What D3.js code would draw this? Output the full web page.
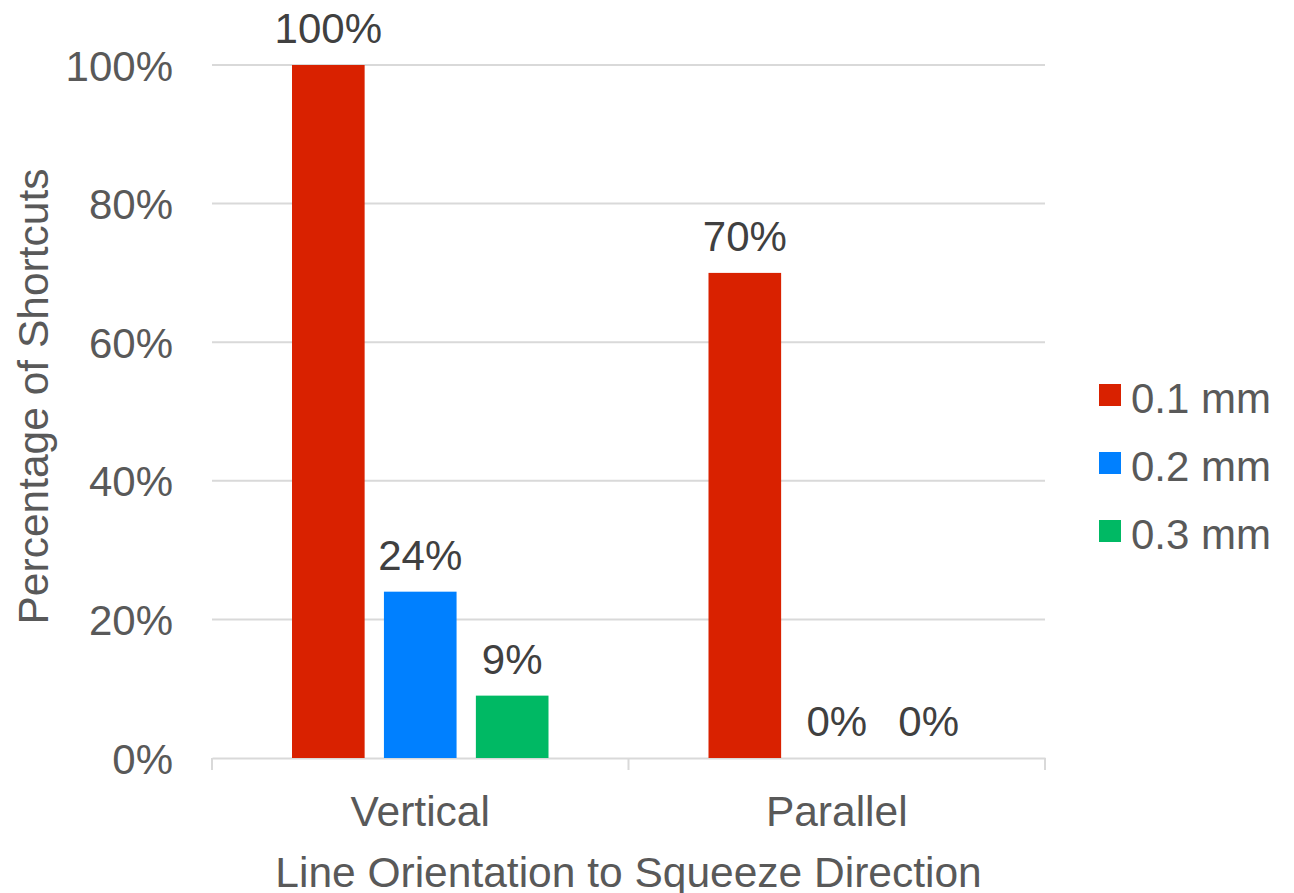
<!DOCTYPE html>
<html>
<head>
<meta charset="utf-8">
<script src="https://cdn.jsdelivr.net/npm/d3@7"></script>
<style>
  html, body { margin: 0; padding: 0; background: #fff; }
  svg { display: block; font-family: "Liberation Sans", Arial, sans-serif; }
</style>
</head>
<body>
<svg id="chart" width="1294" height="893"></svg>
<script>
// Shortcut rates by line orientation and line spacing
const categories = ["Vertical", "Parallel"];
const seriesNames = ["0.1 mm", "0.2 mm", "0.3 mm"];
const values01 = [100, 70];
const values02 = [24, 0];
const values03 = [9, 0];
const yTicks = [0, 20, 40, 60, 80, 100];
const colors = ["#d92100", "#0080ff", "#00b964"];

const seriesValues = [values01, values02, values03];

const svg = d3.select("#chart");
const plotLeft = 212, plotRight = 1045, plotTop = 65, plotBottom = 758;
const fontSize = "42px";
const titleSize = "42.5px";

const x0 = d3.scaleBand().domain(categories).range([plotLeft, plotRight]).paddingInner(0).paddingOuter(0);
const x1 = d3.scaleBand().domain(seriesNames).range([80, x0.bandwidth() - 80]).paddingInner(0.21).paddingOuter(0);
const y = d3.scaleLinear().domain([0, 100]).range([plotBottom, plotTop]);

// Horizontal gridlines
svg.append("g")
  .selectAll("line")
  .data(yTicks.filter(d => d > 0))
  .join("line")
  .attr("x1", plotLeft).attr("x2", plotRight)
  .attr("y1", d => y(d)).attr("y2", d => y(d))
  .attr("stroke", "#d9d9d9").attr("stroke-width", 2);

// Y axis labels
const yAxis = d3.axisLeft(y).tickValues(yTicks).tickFormat(d => d + "%").tickSize(0).tickPadding(39);
const gy = svg.append("g").attr("transform", `translate(${plotLeft},0)`).call(yAxis);
gy.select(".domain").remove();
gy.selectAll("text")
  .attr("fill", "#595959")
  .style("font-size", fontSize)
  .style("font-family", "Liberation Sans, Arial, sans-serif")
  .attr("dy", "0.36em");

// X axis with category separators
const xAxis = d3.axisBottom(x0).tickSize(0).tickPadding(38);
const gx = svg.append("g").attr("transform", `translate(0,${plotBottom})`).call(xAxis);
gx.select(".domain").attr("stroke", "#d9d9d9").attr("stroke-width", 2);
gx.selectAll("text")
  .attr("fill", "#595959")
  .style("font-size", titleSize)
  .style("font-family", "Liberation Sans, Arial, sans-serif")
  .attr("dy", "0.71em");
const seps = [plotLeft].concat(categories.map(c => x0(c) + x0.bandwidth()));
gx.selectAll(".sep").data(seps).join("line").attr("class", "sep")
  .attr("x1", d => d).attr("x2", d => d).attr("y1", 0).attr("y2", 12)
  .attr("stroke", "#d9d9d9").attr("stroke-width", 2);

// Bars
const groups = svg.append("g").selectAll("g")
  .data(categories)
  .join("g")
  .attr("transform", d => `translate(${x0(d)},0)`);

const cells = (c, i) => seriesNames.map((s, k) => ({ s, k, v: seriesValues[k][i] }));

groups.selectAll("rect")
  .data(cells)
  .join("rect")
  .attr("x", d => x1(d.s))
  .attr("width", x1.bandwidth())
  .attr("y", d => y(d.v))
  .attr("height", d => y(0) - y(d.v))
  .attr("fill", d => colors[d.k]);

groups.selectAll("text")
  .data(cells)
  .join("text")
  .attr("x", d => x1(d.s) + x1.bandwidth() / 2)
  .attr("y", d => y(d.v) - 22)
  .attr("text-anchor", "middle")
  .attr("fill", "#404040")
  .style("font-size", fontSize)
  .text(d => d.v + "%");

// Axis titles
svg.append("text")
  .attr("x", (plotLeft + plotRight) / 2)
  .attr("y", 887)
  .attr("text-anchor", "middle")
  .attr("fill", "#595959")
  .style("font-size", titleSize)
  .text("Line Orientation to Squeeze Direction");

svg.append("text")
  .attr("transform", `translate(48,${(plotTop + plotBottom) / 2 - 15}) rotate(-90)`)
  .attr("text-anchor", "middle")
  .attr("fill", "#595959")
  .style("font-size", titleSize)
  .text("Percentage of Shortcuts");

// Legend
const legend = svg.append("g").attr("transform", "translate(1099,384)");
const items = legend.selectAll("g").data(seriesNames).join("g")
  .attr("transform", (d, i) => `translate(0,${i * 68})`);
items.append("rect").attr("width", 22).attr("height", 22).attr("fill", (d, i) => colors[i]);
items.append("text").attr("x", 32).attr("y", 29)
  .attr("fill", "#595959").style("font-size", fontSize).text(d => d);
</script>
</body>
</html>
